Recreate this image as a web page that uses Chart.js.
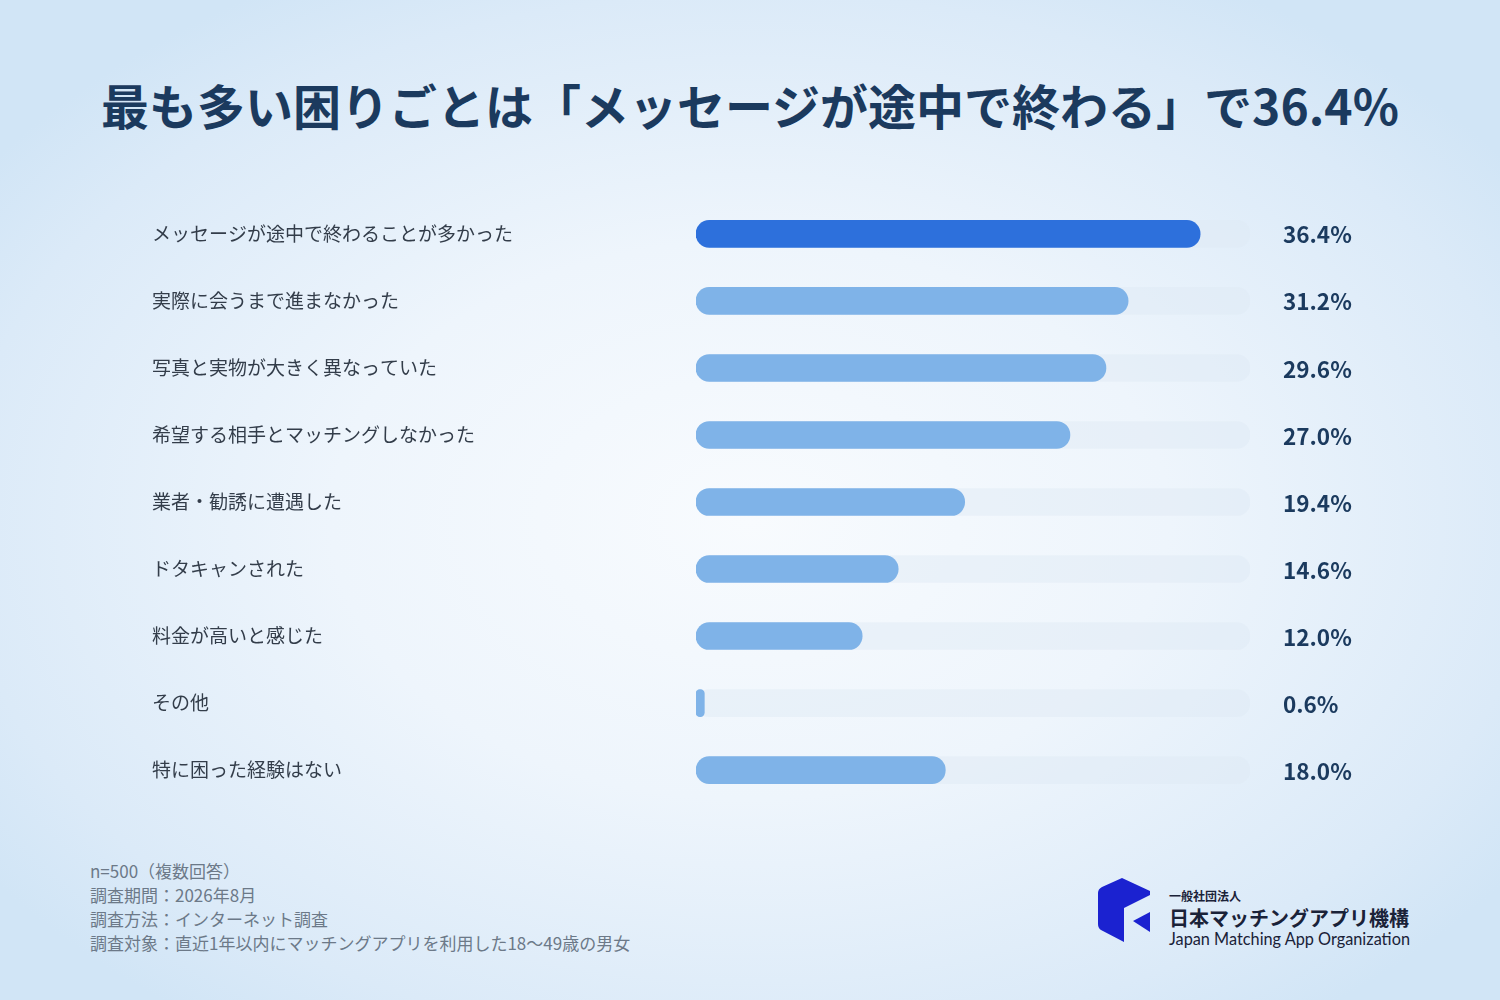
<!DOCTYPE html>
<html lang="ja">
<head>
<meta charset="utf-8">
<script src="https://cdn.jsdelivr.net/npm/chart.js@4.4.1/dist/chart.umd.min.js"></script>
<style>
  html, body { margin: 0; padding: 0; }
  body {
    width: 1500px; height: 1000px; overflow: hidden; position: relative;
    font-family: "Noto Sans CJK JP", "Noto Sans", sans-serif;
    background: radial-gradient(ellipse 62% 62% at 50% 52%, #f8fbfe 0%, #eef5fc 45%, #dbeaf8 85%, #d1e5f6 100%);
  }
  h1 {
    position: absolute; left: 0; top: 72px; width: 1500px; margin: 0;
    text-align: center; font-size: 48px; font-weight: 700; color: #1b3a5e;
    line-height: 64px;
  }
  #wrap { position: absolute; left: 152px; top: 189px; width: 1248px; height: 626px; }
  .note {
    position: absolute; left: 90px; top: 859px; font-size: 17px; line-height: 24px; color: #6c7988;
  }
  .logo { position: absolute; left: 1090px; top: 872px; width: 340px; height: 80px; }
  .logo .small { position: absolute; left: 79px; top: 15px; font-size: 12px; font-weight: 700; color: #1a2238; }
  .logo .name { position: absolute; left: 79px; top: 31px; font-size: 20px; font-weight: 700; color: #1a2238; }
  .logo .en { position: absolute; left: 79px; top: 57px; font-family: Lato, "Open Sans", sans-serif; font-size: 16.3px; color: #1a2238; }
</style>
</head>
<body>
<h1>最も多い困りごとは「メッセージが途中で終わる」で36.4%</h1>
<div id="wrap"><canvas id="chart"></canvas></div>
<div class="note">
  n=500（複数回答）<br>
  調査期間：2026年8月<br>
  調査方法：インターネット調査<br>
  調査対象：直近1年以内にマッチングアプリを利用した18〜49歳の男女
</div>
<div class="logo">
  <svg width="70" height="80" viewBox="1090 872 70 80" style="position:absolute;left:0;top:0">
    <path d="M1098,893 Q1098,889 1102,887 L1122,878 L1150,891 L1150,895 L1124,908 L1124,942 L1101,930 Q1098,928 1098,924 Z" fill="#1b22d0"/>
    <path d="M1133,921 L1150,912 L1150,932 Z" fill="#1b22d0"/>
  </svg>
  <div class="small">一般社団法人</div>
  <div class="name">日本マッチングアプリ機構</div>
  <div class="en">Japan Matching App Organization</div>
</div>
<script>
const categories = [
  "メッセージが途中で終わることが多かった",
  "実際に会うまで進まなかった",
  "写真と実物が大きく異なっていた",
  "希望する相手とマッチングしなかった",
  "業者・勧誘に遭遇した",
  "ドタキャンされた",
  "料金が高いと感じた",
  "その他",
  "特に困った経験はない"
];
const values = [36.4, 31.2, 29.6, 27.0, 19.4, 14.6, 12.0, 0.6, 18.0];
const valueLabels = ["36.4%", "31.2%", "29.6%", "27.0%", "19.4%", "14.6%", "12.0%", "0.6%", "18.0%"];
const axisMax = 40;

const barColors = values.map((v, i) => i === 0 ? "#2d70dc" : "#7fb3e8");

// value text to the right of each track
const valueLabelPlugin = {
  id: "valueLabels",
  afterDatasetsDraw(chart) {
    const { ctx, chartArea, scales } = chart;
    ctx.save();
    ctx.font = "700 22.5px 'Noto Sans CJK JP', 'Noto Sans', sans-serif";
    ctx.fillStyle = "#1b3a5e";
    ctx.textAlign = "left";
    ctx.textBaseline = "middle";
    valueLabels.forEach((label, i) => {
      ctx.fillText(label, chartArea.right + 33, scales.y.getPixelForValue(i) + 1);
    });
    ctx.restore();
  }
};

new Chart(document.getElementById("chart"), {
  type: "bar",
  data: {
    labels: categories,
    datasets: [
      {
        data: values,
        backgroundColor: barColors,
        borderRadius: 14,
        borderSkipped: false,
        barThickness: 27,
        grouped: false,
        order: 1
      },
      {
        // background track, full scale width
        data: categories.map(() => axisMax),
        backgroundColor: "rgba(222, 232, 244, 0.45)",
        borderRadius: 14,
        borderSkipped: false,
        barThickness: 27,
        grouped: false,
        order: 2
      }
    ]
  },
  options: {
    indexAxis: "y",
    responsive: true,
    maintainAspectRatio: false,
    animation: false,
    layout: { padding: { left: 0, right: 150, top: 0, bottom: 0 } },
    plugins: { legend: { display: false }, tooltip: { enabled: false } },
    scales: {
      x: { display: false, min: 0, max: axisMax },
      y: {
        grid: { display: false },
        border: { display: false },
        ticks: {
          crossAlign: "far",
          padding: 0,
          color: "#333d4a",
          font: { family: "'Noto Sans CJK JP', 'Noto Sans', sans-serif", size: 19 }
        },
        afterFit(scale) { scale.width = 544; }
      }
    }
  },
  plugins: [valueLabelPlugin]
});
</script>
</body>
</html>
